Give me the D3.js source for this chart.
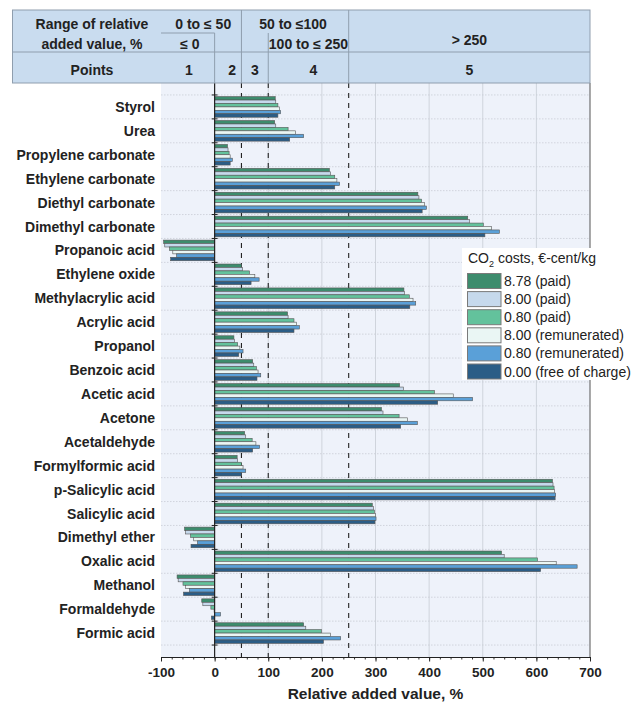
<!DOCTYPE html>
<html><head><meta charset="utf-8">
<script src="https://cdn.jsdelivr.net/npm/d3@7"></script>
<style>
html,body{margin:0;padding:0;background:#fff;}
svg{display:block;font-family:"Liberation Sans",Arial,sans-serif;}
</style></head>
<body><svg id="c" width="640" height="703"></svg>
<script>
const categories = ["Styrol","Urea","Propylene carbonate","Ethylene carbonate","Diethyl carbonate","Dimethyl carbonate","Propanoic acid","Ethylene oxide","Methylacrylic acid","Acrylic acid","Propanol","Benzoic acid","Acetic acid","Acetone","Acetaldehyde","Formylformic acid","p-Salicylic acid","Salicylic acid","Dimethyl ether","Oxalic acid","Methanol","Formaldehyde","Formic acid"];
const seriesNames = ["8.78 (paid)","8.00 (paid)","0.80 (paid)","8.00 (remunerated)","0.80 (remunerated)","0.00 (free of charge)"];
const seriesColors = ["#3d8c6d","#c6d9ec","#63c29c","#eaf6f4","#5aa0d8","#2b5d86"];
const paid878 =  [113,112,24,214,379,472,-95,50,353,136,36,71,345,311,56,42,630,294,-56,535,-70,-24,166];
const paid800 =  [114,114,25,216,381,475,-93,52,354,137,37,73,352,314,58,43,631,296,-54,540,-68,-22,170];
const paid080 =  [118,137,27,224,386,501,-84,65,363,148,43,78,410,344,70,50,633,298,-45,602,-59,-7,199];
const rem800 =   [121,151,29,228,391,516,-78,75,370,153,47,81,445,360,77,53,634,300,-39,637,-54,-1,216];
const rem080 =   [123,166,33,233,395,531,-71,83,375,158,53,86,481,378,84,58,636,301,-32,676,-47,11,235];
const free000 =  [118,140,29,224,387,504,-82,68,364,148,45,79,416,347,71,50,635,299,-44,608,-58,-6,203];
const seriesValues = [paid878,paid800,paid080,rem800,rem080,free000];
const xTicks = [-100,0,100,200,300,400,500,600,700];
const gridValues = [100,200,300,400,500,600];
const thresholds = [50,100,250];
const headerTitle1 = ["Range of relative","added value, %"];
const headerPoints = ["1","2","3","4","5"];

const svg = d3.select("#c");
const L=161, R=590, T=83, B=657;
const x = d3.scaleLinear().domain([-100,700]).range([L,R]);
const y = d3.scaleBand().domain(categories).range([T,B]).paddingInner(0).paddingOuter(0.5);
const sub = d3.scaleBand().domain(d3.range(6)).range([0,y.bandwidth()]).paddingOuter(0.48).paddingInner(0);
const txt = "#222";

// panel
svg.append("rect").attr("x",L).attr("y",T).attr("width",R-L).attr("height",B-T).attr("fill","#eef2fa");
// vertical grid
svg.selectAll(".vg").data(gridValues).join("line")
  .attr("x1",d=>x(d)).attr("x2",d=>x(d)).attr("y1",T).attr("y2",B)
  .attr("stroke","#cfd4dc").attr("stroke-width",1);
// horizontal dotted grid at band boundaries
const bounds = categories.map(c=>y(c)).concat([y(categories[categories.length-1])+y.step()]);
svg.selectAll(".hg").data(bounds).join("line")
  .attr("x1",L).attr("x2",R).attr("y1",d=>d).attr("y2",d=>d)
  .attr("stroke","#c9cdd6").attr("stroke-width",0.8).attr("stroke-dasharray","1.5,1.5");
// threshold dashed lines
svg.selectAll(".th").data(thresholds).join("line")
  .attr("x1",d=>x(d)).attr("x2",d=>x(d)).attr("y1",T).attr("y2",B)
  .attr("stroke","#222").attr("stroke-width",1.1).attr("stroke-dasharray","5,5");

// bars
seriesValues.forEach((vals,si)=>{
  svg.append("g").selectAll("rect").data(categories).join("rect")
    .attr("x",(c,i)=>x(Math.min(0,vals[i])))
    .attr("width",(c,i)=>Math.abs(x(vals[i])-x(0)))
    .attr("y",c=>y(c)+sub(si))
    .attr("height",sub.bandwidth())
    .attr("fill",seriesColors[si]).attr("stroke","#555").attr("stroke-width",0.6);
});

// zero axis
svg.append("line").attr("x1",x(0)).attr("x2",x(0)).attr("y1",T).attr("y2",B).attr("stroke","#222").attr("stroke-width",1.2);
svg.selectAll(".yt").data(bounds).join("line")
  .attr("x1",x(0)-3).attr("x2",x(0)+3).attr("y1",d=>d).attr("y2",d=>d).attr("stroke","#222").attr("stroke-width",1);
// right border
svg.append("line").attr("x1",R).attr("x2",R).attr("y1",T).attr("y2",B).attr("stroke","#555").attr("stroke-width",1);

// category labels
svg.selectAll(".cl").data(categories).join("text")
  .attr("x",155).attr("y",c=>y(c)+y.bandwidth()/2+5)
  .attr("text-anchor","end").attr("font-size",14).attr("font-weight","bold").attr("fill",txt).text(c=>c);

// bottom axis
const minor = svg.append("g").attr("transform",`translate(0,${B})`)
  .call(d3.axisBottom(x).tickValues(d3.range(-100,701,20)).tickSize(2.5).tickFormat(""));
minor.select(".domain").remove();
minor.selectAll("line").attr("stroke","#333");
const ax = svg.append("g").attr("transform",`translate(0,${B})`)
  .call(d3.axisBottom(x).tickValues(xTicks).tickSize(4.5).tickSizeOuter(0).tickPadding(6).tickFormat(d=>String(d)));
ax.select(".domain").attr("stroke","#222").attr("stroke-width",1.2);
ax.selectAll("line").attr("stroke","#222");
ax.selectAll("text").attr("font-size",13.5).attr("font-weight","bold").attr("fill",txt)
  .attr("font-family","Liberation Sans, Arial, sans-serif");
svg.append("text").attr("x",(L+R)/2).attr("y",699).attr("text-anchor","middle")
  .attr("font-size",15.5).attr("font-weight","bold").attr("fill",txt).text("Relative added value, %");

// header
const HT=10, HM=52, HB=83, HL=12.5;
const hs = "#8f9eae";
svg.append("rect").attr("x",HL).attr("y",HT).attr("width",R-HL).attr("height",HB-HT).attr("fill","#c9dcef").attr("stroke",hs).attr("stroke-width",1);
const hl = (x1,y1,x2,y2)=>svg.append("line").attr("x1",x1).attr("y1",y1).attr("x2",x2).attr("y2",y2).attr("stroke",hs).attr("stroke-width",1);
hl(HL,HM,R,HM);
hl(x(-100),33,x(0),33);
hl(x(0),33,x(0),HB);
hl(x(50),HT,x(50),HB);
hl(x(100),33,x(100),HB);
hl(x(250),HT,x(250),HB);
const ht = (tx,ty,s,anchor="middle")=>svg.append("text").attr("x",tx).attr("y",ty).attr("text-anchor",anchor)
  .attr("font-size",14).attr("font-weight","bold").attr("fill",txt).text(s);
ht(92,29,headerTitle1[0]);
ht(92,48.5,headerTitle1[1]);
ht(92,75,"Points");
ht((x(-100)+x(50))/2+2,29,"0 to ≤ 50");
ht((x(-100)+x(0))/2+2,48.5,"≤ 0");
ht((x(50)+x(250))/2-2,29,"50 to ≤100");
ht((x(100)+x(250))/2,48.5,"100 to ≤ 250");
ht((x(250)+x(700))/2,45,"> 250");
const pcx = [(x(-100)+x(0))/2+1,(x(0)+x(50))/2+4,(x(50)+x(100))/2,(x(100)+x(250))/2+5,(x(250)+x(700))/2];
headerPoints.forEach((p,i)=>ht(pcx[i],75,p));

// legend
const lg = svg.append("g");
lg.append("rect").attr("x",462).attr("y",248).attr("width",180).attr("height",132).attr("fill","#fff");
const lt = lg.append("text").attr("x",468).attr("y",263).attr("font-size",14).attr("fill",txt);
lt.append("tspan").text("CO");
lt.append("tspan").attr("font-size",9).attr("dy",4).text("2");
lt.append("tspan").attr("dy",-4).text(" costs, €-cent/kg");
seriesNames.forEach((n,i)=>{
  const cy = 281 + i*18.1;
  lg.append("rect").attr("x",467.5).attr("y",cy-7.5).attr("width",33.5).attr("height",15)
    .attr("fill",seriesColors[i]).attr("stroke","#7a7a7a").attr("stroke-width",1);
  lg.append("text").attr("x",504).attr("y",cy+5).attr("font-size",14).attr("fill",txt).text(n);
});
</script></body></html>
